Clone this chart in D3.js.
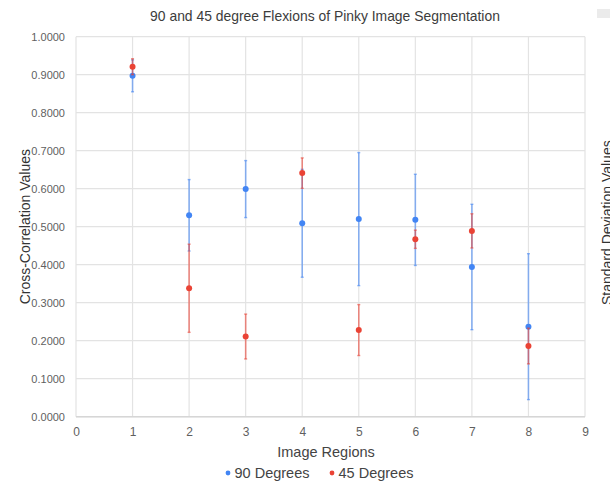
<!DOCTYPE html>
<html>
<head>
<meta charset="utf-8">
<script src="https://cdn.jsdelivr.net/npm/d3@7"></script>
<style>
  html, body { margin: 0; padding: 0; background: #fff; }
  svg { display: block; font-family: "Liberation Sans", Arial, sans-serif; }
</style>
</head>
<body>
<svg id="chart" width="610" height="485"></svg>
<script>
// Image regions along the x axis
const regions = [1, 2, 3, 4, 5, 6, 7, 8];

// Mean cross-correlation per region, with standard deviation
const deg90 = [0.897, 0.530, 0.599, 0.509, 0.520, 0.518, 0.394, 0.237];
const sd90  = [0.042, 0.094, 0.075, 0.142, 0.175, 0.120, 0.165, 0.192];
const deg45 = [0.921, 0.338, 0.211, 0.641, 0.228, 0.467, 0.489, 0.186];
const sd45  = [0.021, 0.116, 0.059, 0.040, 0.067, 0.024, 0.045, 0.047];

const xTicks = [0, 1, 2, 3, 4, 5, 6, 7, 8, 9];
const yTicks = [0, 0.1, 0.2, 0.3, 0.4, 0.5, 0.6, 0.7, 0.8, 0.9, 1.0];

const seriesNames = ["90 Degrees", "45 Degrees"];
const seriesColors = ["#4285f4", "#ea4335"];

const FONT = '"Liberation Sans", Arial, sans-serif';
const svg = d3.select("#chart");
const plot = { left: 76, right: 585, top: 36.7, bottom: 416.7 };

const x = d3.scaleLinear().domain([0, 9]).range([plot.left, plot.right]);
const y = d3.scaleLinear().domain([0, 1]).range([plot.bottom, plot.top]);

// Title
svg.append("text")
  .attr("x", 325).attr("y", 21)
  .attr("text-anchor", "middle")
  .attr("font-size", 13.9)
  .attr("fill", "#3c3c3c")
  .text("90 and 45 degree Flexions of Pinky Image Segmentation");

// Gridlines
const grid = svg.append("g");
grid.selectAll("line.h").data(yTicks).join("line")
  .attr("x1", plot.left).attr("x2", plot.right)
  .attr("y1", d => y(d)).attr("y2", d => y(d))
  .attr("stroke", "#e3e3e3").attr("stroke-width", 1.2);
grid.selectAll("line.v").data(xTicks).join("line")
  .attr("x1", d => x(d)).attr("x2", d => x(d))
  .attr("y1", plot.top).attr("y2", plot.bottom)
  .attr("stroke", "#e3e3e3").attr("stroke-width", 1.2);

// Axes (labels only; lines come from the grid)
const yAxis = svg.append("g")
  .attr("transform", `translate(${plot.left - 8},0)`)
  .call(d3.axisLeft(y).tickValues(yTicks).tickFormat(d3.format(".4f")).tickSize(0));
yAxis.select(".domain").remove();
yAxis.selectAll("text")
  .attr("font-family", FONT)
  .attr("font-size", 11).attr("fill", "#5f5f5f");

const xAxis = svg.append("g")
  .attr("transform", `translate(0,${plot.bottom + 8})`)
  .call(d3.axisBottom(x).tickValues(xTicks).tickFormat(d3.format("d")).tickSize(0));
xAxis.select(".domain").remove();
xAxis.selectAll("text")
  .attr("font-family", FONT)
  .attr("font-size", 12).attr("fill", "#5f5f5f");

// Baseline
svg.append("line")
  .attr("x1", plot.left).attr("x2", plot.right)
  .attr("y1", y(0)).attr("y2", y(0))
  .attr("stroke", "#d6d6d6").attr("stroke-width", 1.5);

// Axis titles
svg.append("text")
  .attr("transform", `translate(30,${(plot.top + plot.bottom) / 2}) rotate(-90)`)
  .attr("text-anchor", "middle")
  .attr("font-size", 14).attr("fill", "#333")
  .text("Cross-Correlation Values");

// Secondary axis title at the right edge of the canvas
svg.append("text")
  .attr("transform", `translate(612,${(plot.top + plot.bottom) / 2 - 4}) rotate(-90)`)
  .attr("text-anchor", "middle")
  .attr("font-size", 14).attr("fill", "#333")
  .text("Standard Deviation Values");

svg.append("rect")
  .attr("x", 597).attr("y", 9).attr("width", 13).attr("height", 9)
  .attr("fill", "#ebebeb");

svg.append("text")
  .attr("x", 326).attr("y", 457)
  .attr("text-anchor", "middle")
  .attr("font-size", 14.5).attr("fill", "#444")
  .text("Image Regions");

// Series: error bars then markers
const series = [
  { name: seriesNames[0], color: seriesColors[0], vals: deg90, sd: sd90 },
  { name: seriesNames[1], color: seriesColors[1], vals: deg45, sd: sd45 }
];

series.forEach(s => {
  const rows = regions.map((r, i) => ({ r, v: s.vals[i], e: s.sd[i] }));
  const g = svg.append("g");
  g.selectAll("line.err").data(rows).join("line")
    .attr("x1", d => x(d.r)).attr("x2", d => x(d.r))
    .attr("y1", d => y(d.v + d.e)).attr("y2", d => y(d.v - d.e))
    .attr("stroke", s.color).attr("stroke-opacity", 0.6).attr("stroke-width", 1.6);
  ["top", "bot"].forEach(k => {
    g.selectAll("line.cap" + k).data(rows).join("line")
      .attr("x1", d => x(d.r) - 1.5).attr("x2", d => x(d.r) + 1.5)
      .attr("y1", d => y(k === "top" ? d.v + d.e : d.v - d.e))
      .attr("y2", d => y(k === "top" ? d.v + d.e : d.v - d.e))
      .attr("stroke", s.color).attr("stroke-opacity", 0.6).attr("stroke-width", 1.4);
  });
  g.selectAll("circle").data(rows).join("circle")
    .attr("cx", d => x(d.r)).attr("cy", d => y(d.v))
    .attr("r", 3).attr("fill", s.color);
});

// Legend
const legend = svg.append("g").attr("transform", "translate(0,473)");
const legendItems = [
  { name: seriesNames[0], color: seriesColors[0], x: 228 },
  { name: seriesNames[1], color: seriesColors[1], x: 332 }
];
legendItems.forEach(it => {
  legend.append("circle").attr("cx", it.x).attr("cy", 0).attr("r", 2.4).attr("fill", it.color);
  legend.append("text")
    .attr("x", it.x + 6.5).attr("y", 5)
    .attr("font-size", 14.5).attr("fill", "#444")
    .text(it.name);
});
</script>
</body>
</html>
